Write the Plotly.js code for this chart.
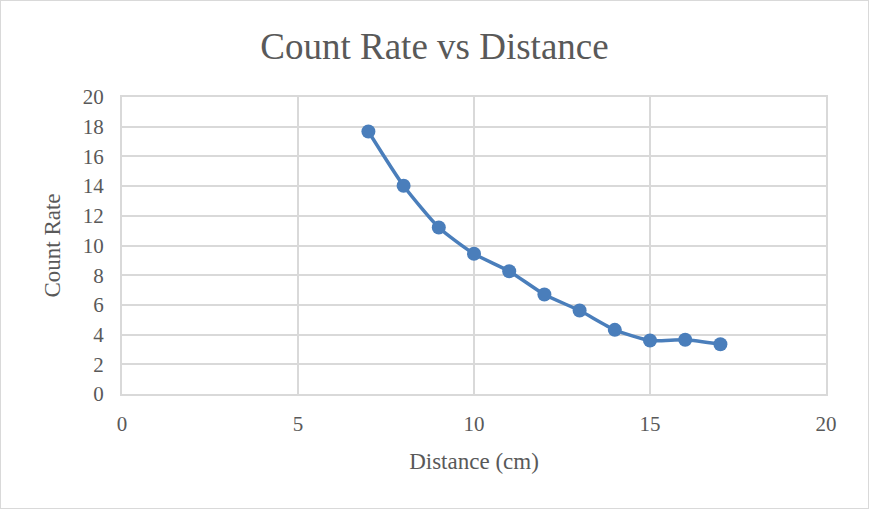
<!DOCTYPE html>
<html>
<head>
<meta charset="utf-8">
<script src="https://cdn.plot.ly/plotly-3.0.1.min.js"></script>
<style>
html,body{margin:0;padding:0;background:#fff;}
#chart{width:867px;height:507px;border:1px solid #d9d9d9;}
</style>
</head>
<body>
<div id="chart"></div>
<script>
const distance = [7, 8, 9, 10, 11, 12, 13, 14, 15, 16, 17];
const countRate = [17.68, 14.02, 11.21, 9.44, 8.27, 6.70, 5.62, 4.32, 3.60, 3.65, 3.35];
const xTicks = [0, 5, 10, 15, 20];
const yTicks = [0, 2, 4, 6, 8, 10, 12, 14, 16, 18, 20];

const font = "Liberation Serif, DejaVu Serif, serif";
const textColor = "#595959";
const gridColor = "#d9d9d9";

Plotly.newPlot("chart", [{
  x: distance,
  y: countRate,
  type: "scatter",
  mode: "lines+markers",
  line: {color: "#4a7ebb", width: 3.5, shape: "spline", smoothing: 0.6},
  marker: {color: "#4a7ebb", size: 14},
  showlegend: false,
  hoverinfo: "x+y"
}], {
  width: 867,
  height: 507,
  margin: {l: 121, r: 42, t: 96, b: 114},
  paper_bgcolor: "#fff",
  plot_bgcolor: "#fff",
  title: {
    text: "Count Rate vs Distance",
    font: {family: font, size: 37, color: textColor},
    x: 0.5, xanchor: "center", y: 0.912, yanchor: "middle"
  },
  xaxis: {
    range: [0, 20],
    tickvals: xTicks,
    ticktext: xTicks.map(String),
    showgrid: true, gridcolor: gridColor, gridwidth: 2,
    zeroline: false,
    showline: true, linecolor: gridColor, linewidth: 2, mirror: true,
    ticks: "",
    ticklabelstandoff: 10,
    tickfont: {family: font, size: 21, color: textColor},
    title: {text: "Distance (cm)", font: {family: font, size: 23, color: textColor}, standoff: 18}
  },
  yaxis: {
    range: [0, 20],
    tickvals: yTicks,
    ticktext: yTicks.map(String),
    showgrid: true, gridcolor: gridColor, gridwidth: 2,
    zeroline: false,
    showline: true, linecolor: gridColor, linewidth: 2, mirror: true,
    ticks: "",
    ticklabelstandoff: 12,
    tickfont: {family: font, size: 21, color: textColor},
    title: {text: "Count Rate", font: {family: font, size: 23, color: textColor}, standoff: 16}
  }
}, {displayModeBar: false, staticPlot: true});
</script>
</body>
</html>
